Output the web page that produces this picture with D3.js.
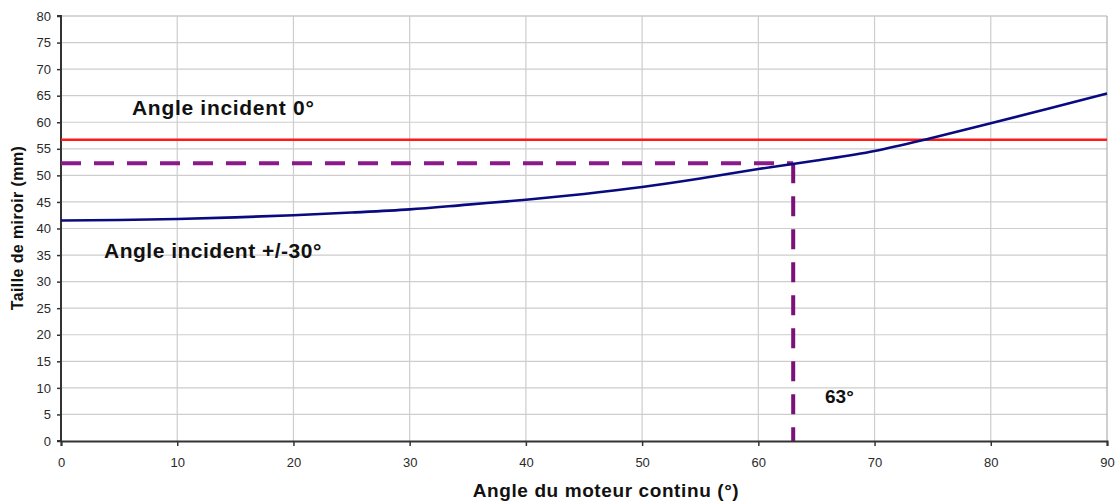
<!DOCTYPE html>
<html><head><meta charset="utf-8">
<script src="https://cdn.jsdelivr.net/npm/d3@7"></script>
<style>
html,body{margin:0;padding:0;background:#fff;}
svg{display:block;font-family:"Liberation Sans",Arial,sans-serif;}
</style></head>
<body>
<svg id="chart" width="1115" height="502"></svg>
<script>
// Data
const angles = [0,5,10,15,20,25,30,35,40,45,50,55,60,65,70,75,80,85,90];
const mirrorSize30 = [41.5,41.6,41.8,42.1,42.5,43.0,43.6,44.5,45.4,46.5,47.8,49.4,51.2,52.8,54.6,57.1,59.8,62.6,65.4];
const mirrorSize0 = 56.7;
const chosenAngle = 63;
const chosenSize = 52.3;
const xTicks = [0,10,20,30,40,50,60,70,80,90];
const yTicks = [0,5,10,15,20,25,30,35,40,45,50,55,60,65,70,75,80];
const labels = {
  x: "Angle du moteur continu (°)",
  y: "Taille de miroir (mm)",
  zero: "Angle incident 0°",
  thirty: "Angle incident +/-30°",
  chosen: "63°"
};

const svg = d3.select("#chart");
const L = 61, R = 1107, T = 16, B = 441;
const x = d3.scaleLinear().domain([0,90]).range([L,R]);
const y = d3.scaleLinear().domain([0,80]).range([B,T]);

// grid
svg.append("g").selectAll("line.h").data(yTicks.filter(d=>d>0)).join("line")
  .attr("x1",L).attr("x2",R).attr("y1",d=>y(d)).attr("y2",d=>y(d))
  .attr("stroke",d=>d===80?"#b0b0b0":"#cdcdcd").attr("stroke-width",1.2);
svg.append("g").selectAll("line.v").data(xTicks.filter(d=>d>0)).join("line")
  .attr("x1",d=>x(d)).attr("x2",d=>x(d)).attr("y1",T).attr("y2",B)
  .attr("stroke",d=>d===90?"#b0b0b0":"#cdcdcd").attr("stroke-width",1.2);

// axes
const yAxis = d3.axisLeft(y).tickValues(yTicks).tickSize(4).tickPadding(6).tickFormat(d3.format("d"));
const gy = svg.append("g").attr("transform",`translate(${L},0)`).call(yAxis);
const xAxis = d3.axisBottom(x).tickValues(xTicks).tickSize(5).tickPadding(12).tickFormat(d3.format("d"));
const gx = svg.append("g").attr("transform",`translate(0,${B})`).call(xAxis);
[gx,gy].forEach(g=>{
  g.select(".domain").attr("stroke","#333").attr("stroke-width",2);
  g.selectAll(".tick line").attr("stroke","#333").attr("stroke-width",1.5);
  g.selectAll(".tick text").attr("fill","#2a2a2a").attr("font-size",13)
    .attr("font-family","'Liberation Sans',Arial,sans-serif");
});
gy.select(".domain").attr("d",`M-4,${T}H0V${B}H-4`);

// red line (0 deg incidence)
svg.append("line").attr("x1",x(0)).attr("x2",x(90))
  .attr("y1",y(mirrorSize0)).attr("y2",y(mirrorSize0))
  .attr("stroke","#ff1a1a").attr("stroke-width",2.5);

// purple dashed construction lines
svg.append("path")
  .attr("d",`M${x(0)},${y(chosenSize)}H${x(chosenAngle)}`)
  .attr("stroke","#8a1a8a").attr("stroke-width",4).attr("fill","none")
  .attr("stroke-dasharray","20,13");
svg.append("path")
  .attr("d",`M${x(chosenAngle)},${y(chosenSize)}V${y(0)}`)
  .attr("stroke","#7a1078").attr("stroke-width",4).attr("fill","none")
  .attr("stroke-dasharray","20,13");

// blue curve
const line = d3.line().x((d,i)=>x(angles[i])).y(d=>y(d)).curve(d3.curveMonotoneX);
svg.append("path").datum(mirrorSize30).attr("d",line)
  .attr("fill","none").attr("stroke","#0a0a80").attr("stroke-width",2.6);

// annotations
svg.append("text").attr("x",132).attr("y",115).text(labels.zero)
  .attr("font-size",21).attr("font-weight","bold").attr("fill","#111")
  .attr("letter-spacing",0.7);
svg.append("text").attr("x",104).attr("y",258).text(labels.thirty)
  .attr("font-size",21).attr("font-weight","bold").attr("fill","#111")
  .attr("letter-spacing",0.5);
svg.append("text").attr("x",825).attr("y",403).text(labels.chosen)
  .attr("font-size",19).attr("font-weight","bold").attr("fill","#111");

// axis titles
svg.append("text").attr("x",606).attr("y",497).attr("text-anchor","middle")
  .text(labels.x).attr("font-size",19).attr("font-weight","bold").attr("fill","#111")
  .attr("letter-spacing",0.6);
svg.append("text").attr("transform","translate(23,228) rotate(-90)").attr("text-anchor","middle")
  .text(labels.y).attr("font-size",16).attr("font-weight","bold").attr("fill","#111")
  .attr("letter-spacing",0.4);
</script>
</body></html>
